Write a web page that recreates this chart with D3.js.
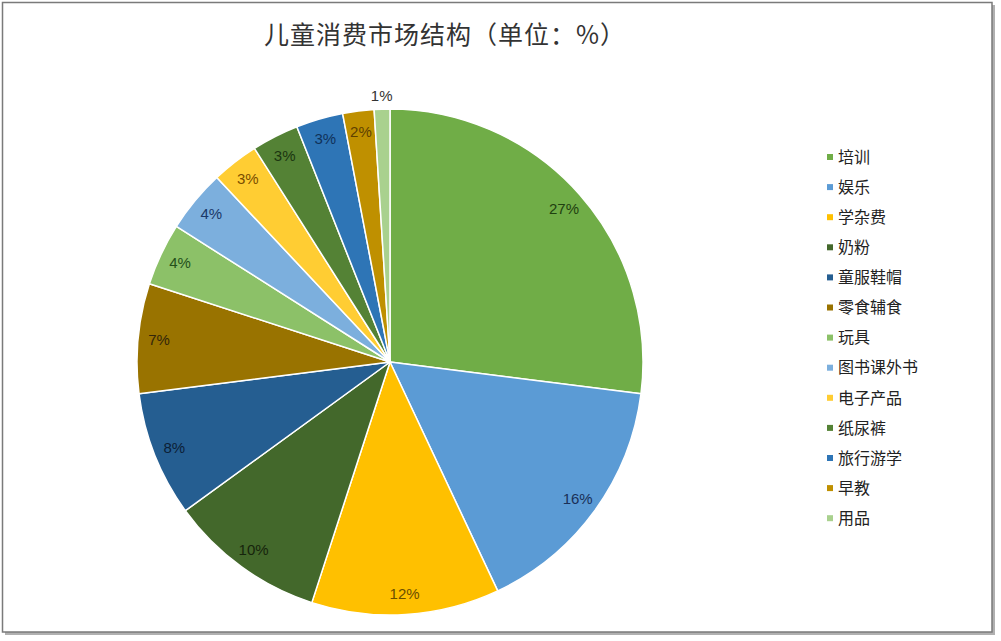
<!DOCTYPE html>
<html>
<head>
<meta charset="utf-8">
<script src="https://cdn.jsdelivr.net/npm/d3@7"></script>
<style>
  html, body { margin: 0; padding: 0; background: #fff; }
  svg { display: block; }
</style>
</head>
<body>
<div id="chart"></div>
<script>
// data
const categories = ["培训", "娱乐", "学杂费", "奶粉", "童服鞋帽", "零食辅食", "玩具",
  "图书课外书", "电子产品", "纸尿裤", "旅行游学", "早教", "用品"];
const values = [27, 16, 12, 10, 8, 7, 4, 4, 3, 3, 3, 2, 1];
const title = "儿童消费市场结构（单位：%）";

// palette (Excel-like)
const sliceColors = ["#70ad47", "#5b9bd5", "#ffc000", "#43682b", "#255e91", "#997300",
  "#8cc168", "#7cafdd", "#ffcd33", "#548235", "#2e75b6", "#bf9000", "#a9d18e"];
const labelColors = ["#1f4010", "#1a3058", "#6b4f00", "#16240c", "#0c2036", "#33260a",
  "#24501a", "#1a3868", "#7a4e00", "#1b3510", "#10325a", "#5e4000", "#333333"];

const W = 1001, H = 641;
const cx = 390, cy = 362, R = 253;

const svg = d3.select("#chart").append("svg")
  .attr("width", W)
  .attr("height", H);

// frame with shadow
svg.append("rect")
  .attr("x", 5).attr("y", 5)
  .attr("width", 990).attr("height", 630)
  .attr("fill", "#b0b0b0");
svg.append("rect")
  .attr("x", 2.5).attr("y", 2.5)
  .attr("width", 989.5).attr("height", 629.5)
  .attr("fill", "#fff")
  .attr("stroke", "#7a7a7a")
  .attr("stroke-width", 1.5);

// title
svg.append("text")
  .attr("x", 445)
  .attr("y", 44)
  .attr("text-anchor", "middle")
  .attr("font-family", "'Noto Sans CJK SC', sans-serif")
  .attr("font-size", 25)
  .attr("letter-spacing", 1)
  .attr("fill", "#333")
  .text(title);

// pie
const pie = d3.pie().sort(null).value(d => d)(values);
const arc = d3.arc().innerRadius(0).outerRadius(R);
const labelArc = d3.arc().innerRadius(232).outerRadius(232);
const outerLabelArc = d3.arc().innerRadius(266).outerRadius(266);

const g = svg.append("g").attr("transform", `translate(${cx},${cy})`);

g.selectAll("path.slice")
  .data(pie)
  .join("path")
  .attr("class", "slice")
  .attr("d", arc)
  .attr("fill", (d, i) => sliceColors[i])
  .attr("stroke", "#fff")
  .attr("stroke-width", 1.5)
  .attr("stroke-linejoin", "round");

g.selectAll("text.lbl")
  .data(pie)
  .join("text")
  .attr("class", "lbl")
  .attr("transform", d => {
    const c = (d.value < 2 ? outerLabelArc : labelArc).centroid(d);
    return `translate(${c[0]},${c[1]})`;
  })
  .attr("text-anchor", "middle")
  .attr("dy", "0.35em")
  .attr("font-family", "'Liberation Sans', Arial, sans-serif")
  .attr("font-size", 15)
  .attr("fill", (d, i) => labelColors[i])
  .text(d => d.value + "%");

// legend
const legend = svg.append("g").attr("transform", "translate(827,157)");
const item = legend.selectAll("g")
  .data(categories)
  .join("g")
  .attr("transform", (d, i) => `translate(0,${i * 30.1})`);

item.append("rect")
  .attr("x", 0).attr("y", -3)
  .attr("width", 6).attr("height", 6)
  .attr("fill", (d, i) => sliceColors[i]);

item.append("text")
  .attr("x", 11)
  .attr("dy", "0.36em")
  .attr("font-family", "'Noto Sans CJK SC', sans-serif")
  .attr("font-size", 16)
  .attr("fill", "#222")
  .text(d => d);
</script>
</body>
</html>
